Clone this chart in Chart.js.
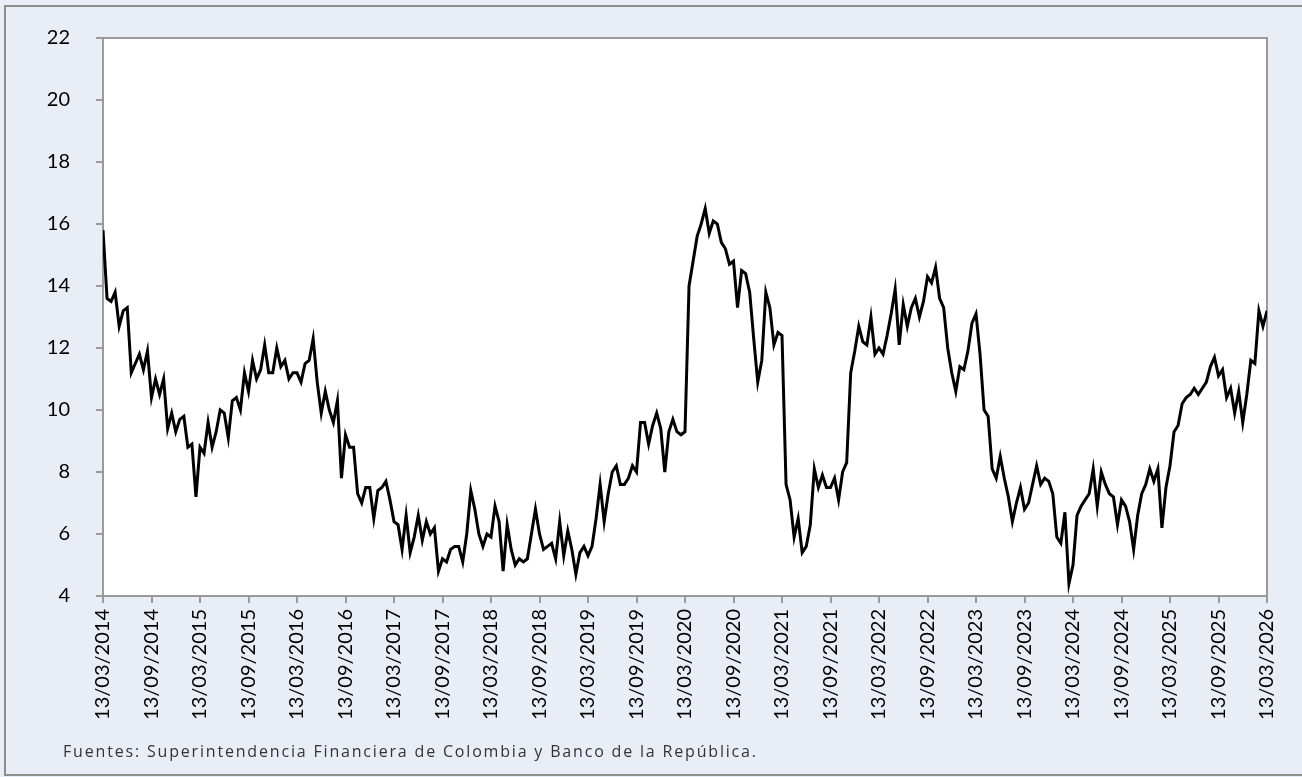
<!DOCTYPE html>
<html>
<head>
<meta charset="utf-8">
<script src="https://cdn.jsdelivr.net/npm/chart.js@4.4.1/dist/chart.umd.min.js"></script>
<style>
  body { margin: 0; background: #e9eef6; }
  canvas { display: block; }
</style>
</head>
<body>
<canvas id="chart" width="1302" height="777"></canvas>
<script>
// x ticks, one every 6 months
const tickLabels = [
  '13/03/2014', '13/09/2014', '13/03/2015', '13/09/2015', '13/03/2016', '13/09/2016',
  '13/03/2017', '13/09/2017', '13/03/2018', '13/09/2018', '13/03/2019', '13/09/2019',
  '13/03/2020', '13/09/2020', '13/03/2021', '13/09/2021', '13/03/2022', '13/09/2022',
  '13/03/2023', '13/09/2023', '13/03/2024', '13/09/2024', '13/03/2025', '13/09/2025',
  '13/03/2026'
];

// values, two per month, one array per year (from 13/03)
const v2014 = [15.8, 13.6, 13.5, 13.8, 12.7, 13.2, 13.3, 11.2, 11.5, 11.8, 11.3, 11.9, 10.4, 11.0, 10.5, 11.0, 9.4, 9.9, 9.3, 9.7, 9.8, 8.8, 8.9, 7.2];
const v2015 = [8.8, 8.6, 9.6, 8.8, 9.3, 10.0, 9.9, 9.1, 10.3, 10.4, 10.0, 11.2, 10.6, 11.6, 11.0, 11.3, 12.1, 11.2, 11.2, 12.0, 11.4, 11.6, 11.0, 11.2];
const v2016 = [11.2, 10.9, 11.5, 11.6, 12.3, 10.9, 9.9, 10.6, 10.0, 9.6, 10.3, 7.8, 9.2, 8.8, 8.8, 7.3, 7.0, 7.5, 7.5, 6.5, 7.4, 7.5, 7.7, 7.1];
const v2017 = [6.4, 6.3, 5.5, 6.6, 5.4, 5.9, 6.6, 5.8, 6.4, 6.0, 6.2, 4.8, 5.2, 5.1, 5.5, 5.6, 5.6, 5.1, 6.0, 7.4, 6.8, 6.0, 5.6, 6.0];
const v2018 = [5.9, 6.9, 6.4, 4.8, 6.3, 5.5, 5.0, 5.2, 5.1, 5.2, 6.0, 6.8, 6.0, 5.5, 5.6, 5.7, 5.2, 6.4, 5.3, 6.1, 5.5, 4.7, 5.4, 5.6];
const v2019 = [5.3, 5.6, 6.5, 7.6, 6.4, 7.3, 8.0, 8.2, 7.6, 7.6, 7.8, 8.2, 8.0, 9.6, 9.6, 8.9, 9.5, 9.9, 9.4, 8.0, 9.3, 9.7, 9.3, 9.2];
const v2020 = [9.3, 14.0, 14.8, 15.6, 16.0, 16.5, 15.7, 16.1, 16.0, 15.4, 15.2, 14.7, 14.8, 13.3, 14.5, 14.4, 13.8, 12.3, 10.9, 11.6, 13.8, 13.3, 12.1, 12.5];
const v2021 = [12.4, 7.6, 7.1, 5.9, 6.5, 5.4, 5.6, 6.3, 8.1, 7.5, 7.9, 7.5, 7.5, 7.8, 7.1, 8.0, 8.3, 11.2, 11.9, 12.7, 12.2, 12.1, 13.0, 11.8];
const v2022 = [12.0, 11.8, 12.4, 13.1, 13.9, 12.1, 13.4, 12.7, 13.3, 13.6, 13.0, 13.5, 14.3, 14.1, 14.6, 13.6, 13.3, 12.0, 11.2, 10.6, 11.4, 11.3, 11.9, 12.8];
const v2023 = [13.1, 11.8, 10.0, 9.8, 8.1, 7.8, 8.5, 7.8, 7.2, 6.4, 7.0, 7.5, 6.8, 7.0, 7.6, 8.2, 7.6, 7.8, 7.7, 7.3, 5.9, 5.7, 6.7, 4.4];
const v2024 = [5.0, 6.6, 6.9, 7.1, 7.3, 8.1, 6.9, 8.0, 7.6, 7.3, 7.2, 6.3, 7.1, 6.9, 6.4, 5.5, 6.6, 7.3, 7.6, 8.1, 7.7, 8.1, 6.2, 7.5];
const v2025 = [8.2, 9.3, 9.5, 10.2, 10.4, 10.5, 10.7, 10.5, 10.7, 10.9, 11.4, 11.7, 11.1, 11.3, 10.4, 10.7, 9.9, 10.6, 9.6, 10.5, 11.6, 11.5, 13.2, 12.7];
const v2026 = [13.2];

const values = [].concat(v2014, v2015, v2016, v2017, v2018, v2019, v2020,
                         v2021, v2022, v2023, v2024, v2025, v2026);
// x in months since 13/03/2014
const points = values.map((v, i) => ({ x: i / 2, y: v }));

const BG = '#e9eef6';
const AXIS = '#9a9a9a';
const FONT = 'Lato, "Open Sans", sans-serif';
const footer = 'Fuentes: Superintendencia Financiera de Colombia y Banco de la República.';

const frame = {
  id: 'frame',
  beforeDraw(chart) {
    const { ctx, width, height, chartArea: a } = chart;
    ctx.save();
    ctx.fillStyle = BG;
    ctx.fillRect(0, 0, width, height);
    ctx.strokeStyle = '#8e8e8e';
    ctx.lineWidth = 2;
    ctx.strokeRect(5, 6, width + 10, height - 8);
    ctx.fillStyle = '#fff';
    ctx.fillRect(a.left, a.top, a.right - a.left, a.bottom - a.top);
    ctx.strokeStyle = AXIS;
    ctx.strokeRect(a.left, a.top, a.right - a.left, a.bottom - a.top);
    ctx.restore();
  },
  afterDraw(chart) {
    const ctx = chart.ctx;
    ctx.save();
    ctx.font = '16px "Open Sans", sans-serif';
    ctx.fillStyle = '#333';
    ctx.textBaseline = 'alphabetic';
    const w = ctx.measureText(footer).width;
    ctx.letterSpacing = Math.max(0, (695 - w) / footer.length).toFixed(2) + 'px';
    ctx.fillText(footer, 63, 757);
    ctx.restore();
  }
};

new Chart(document.getElementById('chart'), {
  type: 'line',
  data: {
    datasets: [{
      data: points,
      borderColor: '#000',
      borderWidth: 3,
      pointRadius: 0,
      tension: 0,
      fill: false
    }]
  },
  options: {
    responsive: false,
    animation: false,
    devicePixelRatio: 1,
    layout: { padding: { left: 0, top: 36, right: 35, bottom: 0 } },
    plugins: { legend: { display: false }, tooltip: { enabled: false } },
    scales: {
      x: {
        type: 'linear',
        min: 0,
        max: 144,
        afterFit(s) { s.height = 181; },
        ticks: {
          stepSize: 6,
          autoSkip: false,
          minRotation: 90,
          maxRotation: 90,
          padding: 6,
          color: '#000',
          font: { family: FONT, size: 20 },
          callback: v => tickLabels[v / 6]
        },
        grid: { drawOnChartArea: false, tickLength: 7, color: AXIS, lineWidth: 2 },
        border: { color: AXIS, width: 2 }
      },
      y: {
        min: 4,
        max: 22,
        afterFit(s) { s.width = 103; },
        ticks: {
          stepSize: 2,
          padding: 26,
          color: '#000',
          font: { family: FONT, size: 20 }
        },
        grid: { drawOnChartArea: false, tickLength: 7, color: AXIS, lineWidth: 2 },
        border: { color: AXIS, width: 2 }
      }
    }
  },
  plugins: [frame]
});
</script>
</body>
</html>
